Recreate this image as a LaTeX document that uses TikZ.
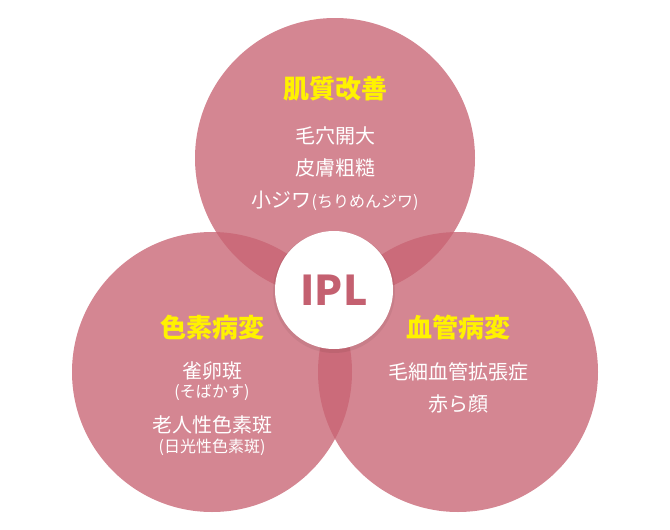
\documentclass[tikz,border=0pt]{standalone}
\usepackage{fontspec}
\setmainfont{Noto Sans CJK JP}
\usepackage{xcolor}
\definecolor{lobepink}{RGB}{200, 100, 115}
\definecolor{headyellow}{RGB}{255, 242, 0}
\definecolor{iplrose}{RGB}{196, 96, 112}
\usepackage{tikz}
\usetikzlibrary{positioning}

\begin{document}
\begin{tikzpicture}[x=1pt, y=-1pt,
    lobe/.style={circle, fill=lobepink, fill opacity=0.78, minimum size=280pt, inner sep=0pt},
    heading/.style={text=headyellow, font=\fontsize{26}{30}\selectfont\bfseries},
    item/.style={text=white, font=\fontsize{20}{24}\selectfont},
    note/.style={text=white, font=\fontsize{16}{20}\selectfont}]
    \useasboundingbox (0,0) rectangle (670,530);
    % three overlapping lobes
    \node[lobe] (skin) at (335,158) {};
    \node[lobe] (pigment) at (212,372) {};
    \node[lobe] (vessel) at (458,372) {};
    % centre badge
    \fill[black, opacity=0.06] (334,292) circle (61pt);
    \node[circle, fill=white, minimum size=118pt, inner sep=0pt, text=iplrose,
          font=\fontsize{41}{45}\selectfont\bfseries] (ipl) at (334,290) {IPL};
    % top lobe
    \node[heading] (skinhead) at (335,89) {肌質改善};
    \node[item] (pores) at (335,136) {毛穴開大};
    \node[item] (rough) at (335,168) {皮膚粗糙};
    \node[item] (wrinkle) at (335,201) {小ジワ{\fontsize{16}{20}\selectfont(ちりめんジワ)}};
    % left lobe
    \node[heading] (pighead) at (212,328) {色素病変};
    \node[item] (freckle) at (212,371) {雀卵斑};
    \node[note] (frecklenote) at (212,392) {(そばかす)};
    \node[item] (senile) at (212,425) {老人性色素斑};
    \node[note] (senilenote) at (212,447) {(日光性色素斑)};
    % right lobe
    \node[heading] (vashead) at (458,328) {血管病変};
    \node[item] (telang) at (458,372) {毛細血管拡張症};
    \node[item] (redface) at (458,404) {赤ら顔};
\end{tikzpicture}
\end{document}
